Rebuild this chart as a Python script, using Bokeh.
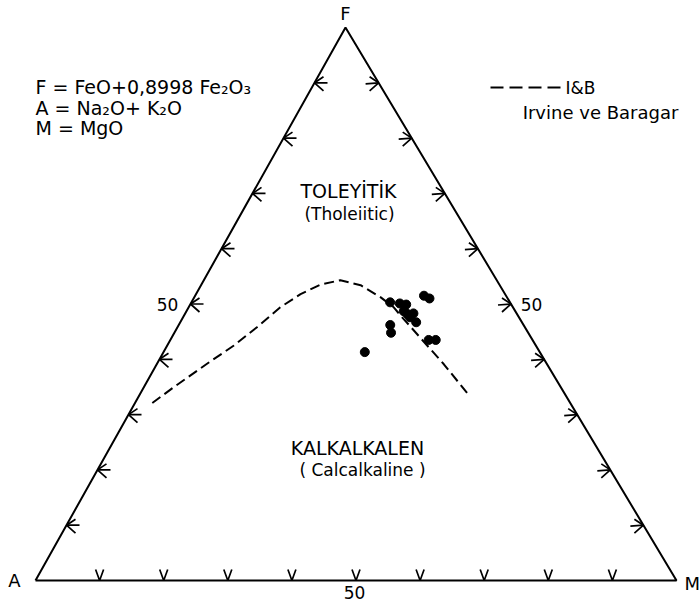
from bokeh.plotting import figure
from bokeh.models import Range1d, Label
from bokeh.embed import file_html
from bokeh.resources import INLINE

# ---- data (ternary percentages: F, A, M) ----
sample_F = [50.3, 50.1, 49.9, 51.5, 51.0, 48.7, 48.3, 47.6, 46.7, 46.2, 44.8, 43.5, 43.5, 41.3, 48.2]
sample_A = [18.7, 17.3, 16.4, 12.8, 12.2, 17.4, 16.1, 17.0, 16.5, 20.8, 21.4, 16.2, 15.1, 27.3, 17.1]
sample_M = [round(100 - f - a, 1) for f, a in zip(sample_F, sample_A)]

# Irvine & Baragar (1971) tholeiitic / calc-alkaline boundary
ib_F = [32.1, 35.0, 39.2, 42.5, 45.8, 49.4, 51.8, 53.5, 54.3, 53.4, 51.2, 49.4, 47.9, 43.9, 39.1, 33.6]
ib_M = [2.7, 4.7, 7.8, 10.4, 12.4, 14.3, 16.3, 18.6, 21.3, 24.9, 29.1, 32.0, 33.8, 38.8, 44.8, 51.3]
ib_A = [round(100 - f - m, 1) for f, m in zip(ib_F, ib_M)]

tick_values = [10, 20, 30, 40, 50, 60, 70, 80, 90]
tick_label = "50"

# ---- layout: triangle vertices in plot units (pixels, y up) ----
VA = (35.0, 22.0)
VM = (676.0, 22.0)
VF = (345.0, 575.0)
W, H = 700, 602


def tern(f, a, m):
    s = f + a + m
    f, a, m = f / s, a / s, m / s
    x = VA[0] * a + VM[0] * m + VF[0] * f
    y = VA[1] * a + VM[1] * m + VF[1] * f
    return x, y


def sy(y_screen):
    return H - y_screen


p = figure(width=W, height=H, x_range=Range1d(0, W), y_range=Range1d(0, H),
           output_backend="svg", toolbar_location=None, min_border=0,
           x_axis_type=None, y_axis_type=None)
p.grid.visible = False
p.outline_line_color = None
p.background_fill_color = "white"
p.border_fill_color = "white"

# triangle
tri_x = [VA[0], VM[0], VF[0], VA[0]]
tri_y = [VA[1], VM[1], VF[1], VA[1]]
p.line(tri_x, tri_y, line_color="black", line_width=2)

# ticks
xs, ys = [], []
for t in tick_values:
    # bottom edge (A-M): "V"
    bx, by = tern(0, 100 - t, t)
    xs.append([bx - 4, bx, bx + 4]); ys.append([by + 11, by, by + 11])
    # left edge (A-F): arrow pointing left
    lx, ly = tern(t, 100 - t, 0)
    xs.append([lx + 13, lx]); ys.append([ly, ly])
    xs.append([lx + 9, lx, lx + 9]); ys.append([ly + 6, ly, ly - 8])
    # right edge (M-F): arrow pointing right
    rx, ry = tern(t, 0, 100 - t)
    xs.append([rx - 13, rx]); ys.append([ry - 1, ry])
    xs.append([rx - 9, rx, rx - 9]); ys.append([ry + 6, ry, ry - 8])
p.multi_line(xs, ys, line_color="black", line_width=1.7)

# boundary curve
cx, cy = zip(*[tern(f, a, m) for f, a, m in zip(ib_F, ib_A, ib_M)])
p.line(list(cx), list(cy), line_color="black", line_width=2, line_dash="10 5")

# samples
px, py = zip(*[tern(f, a, m) for f, a, m in zip(sample_F, sample_A, sample_M)])
p.scatter(list(px), list(py), size=9, fill_color="black", line_color="black")

FONT = "DejaVu Sans"


def lab(x, y_screen, text, size=16, align="center", style="normal"):
    p.add_layout(Label(x=x, y=sy(y_screen), text=text, text_font=FONT,
                       text_font_size=f"{size}px", text_align=align,
                       text_baseline="middle", text_color="black",
                       text_font_style=style))


# vertex labels
lab(VF[0], 13, "F", 18)
lab(14, 580, "A", 18)
lab(684, 583, "M", 18, align="left")

# 50 labels
lab(167, 304, tick_label, 17)
lab(531, 304, tick_label, 17)
lab(354, 592, tick_label, 17)

# formula block
lab(35, 86, "F = FeO+0,8998 Fe\u2082O\u2083", 19, align="left")
lab(35, 107, "A = Na\u2082O+ K\u2082O", 19, align="left")
lab(35, 127, "M = MgO", 19, align="left")

# legend
leg_x0, leg_x1 = 490, 562
p.line([leg_x0, leg_x1], [sy(87), sy(87)], line_color="black", line_width=2, line_dash="13 6")
lab(565, 87, "I&B", 17, align="left")
lab(600, 112, "Irvine ve Baragar", 18)

# field labels
lab(348, 190, "TOLEYİTİK", 19)
lab(349, 213, "(Tholeiitic)", 17)
lab(357, 447, "KALKALKALEN", 19)
lab(362, 469, "( Calcalkaline )", 17)

open("out.html", "w").write(file_html(p, INLINE))
